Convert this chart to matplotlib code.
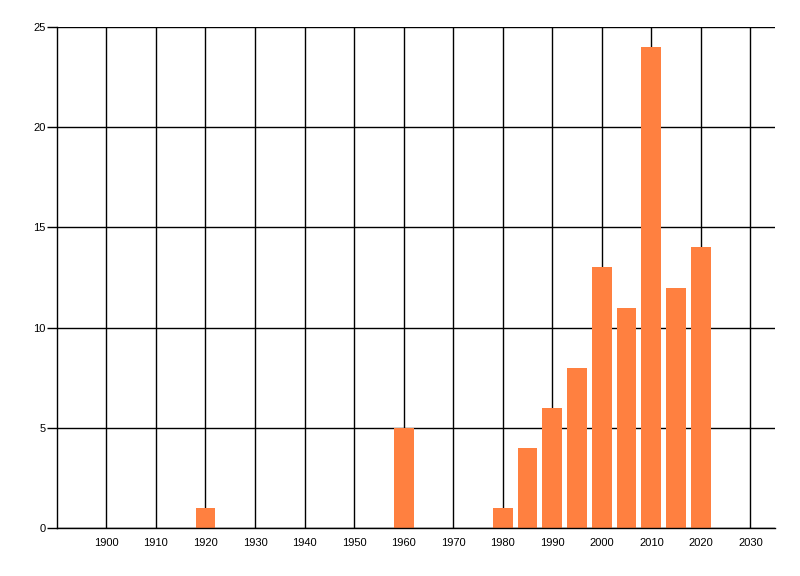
import matplotlib
matplotlib.use("Agg")
import matplotlib.pyplot as plt

# Counts per 5-year bucket
years = [1920, 1960, 1980, 1985, 1990, 1995, 2000, 2005, 2010, 2015, 2020]
counts = [1, 5, 1, 4, 6, 8, 13, 11, 24, 12, 14]
x_ticks = list(range(1900, 2031, 10))
y_ticks = [0, 5, 10, 15, 20, 25]

plt.rcParams['font.family'] = ['Liberation Sans', 'DejaVu Sans']

fig = plt.figure(figsize=(8, 5.76), dpi=100)
ax = fig.add_axes([0.071, 0.0833, 0.898, 0.8698])

ax.bar(years, counts, width=4, color='#FF8040', zorder=3)

ax.set_xlim(1890, 2035)
ax.set_ylim(0, 25)
ax.set_xticks(x_ticks)
ax.set_yticks(y_ticks)
ax.grid(True, color='black', linewidth=1, zorder=0)
ax.set_axisbelow(True)

for side in ('top', 'right'):
    ax.spines[side].set_visible(False)
for side in ('left', 'bottom'):
    ax.spines[side].set_linewidth(1)
    ax.spines[side].set_zorder(4)

ax.tick_params(axis='x', length=0, pad=7, labelsize=8)
ax.tick_params(axis='y', length=7, width=1, pad=1, labelsize=8)

fig.savefig('out.png', dpi=100)
